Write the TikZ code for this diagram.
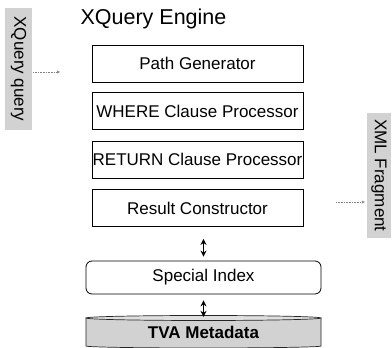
\documentclass[tikz,border=0pt]{standalone}
\usepackage{fontspec}
\setmainfont{Liberation Sans}
\usetikzlibrary{arrows.meta}

\tikzset{
  unit/.style={draw, line width=0.8pt, minimum width=211pt, minimum height=37pt,
    inner xsep=0pt, font=\fontsize{17}{20}\selectfont},
  tagbox/.style={fill=gray!35, rotate=-90, inner sep=0pt, font=\fontsize{17}{20}\selectfont},
  link/.style={{Stealth[length=6pt,width=6pt]}-{Stealth[length=6pt,width=6pt]}, line width=1.5pt},
  feed/.style={-{Triangle[open,length=3pt,width=3pt]}, gray, densely dotted, line width=0.6pt}
}

\begin{document}
\begin{tikzpicture}[x=1pt,y=1pt]
\useasboundingbox (0,0) rectangle (392,348);

\node[font=\fontsize{21.5}{24}\selectfont, anchor=base] (title) at (153.5,323) {XQuery Engine};

\node[unit] (pathgen) at (197.5,284.5) {Path Generator};
\node[unit] (where) at (197.5,237) {WHERE Clause Processor};
\node[unit] (return) at (197.5,188.5) {RETURN Clause Processor};
\node[unit] (result) at (197.5,140) {Result Constructor};

\node[unit, rounded corners=6pt, minimum width=235pt, minimum height=33pt] (index) at (203.5,70.5) {Special Index};

% metadata store
\fill[gray!35] (86,30) -- (86,2) arc[start angle=180, end angle=360, x radius=117.5, y radius=2] -- (321,30) -- cycle;
\draw[line width=0.7pt, gray!30!black] (86,30) -- (86,2) arc[start angle=180, end angle=360, x radius=117.5, y radius=2] -- (321,30);
\draw[line width=0.7pt, gray!30!black, fill=gray!25] (203.5,30) ellipse[x radius=117.5, y radius=2.5];
\node[minimum width=235pt, minimum height=28pt, inner sep=0pt,
  font=\bfseries\fontsize{17}{20}\selectfont] (tva) at (203.5,16) {TVA Metadata};

\draw[link, shorten <=4pt, shorten >=12pt] (index.north) -- (index.north |- result.south);
\draw[link, shorten <=6pt, shorten >=1pt] (index.south) -- (tva.north);

% input and output
\node[tagbox, minimum width=122pt, minimum height=27pt] (query) at (18.5,279) {XQuery query};
\coordinate (queryin) at (60,276);
\draw[feed, shorten <=1pt] (query.north |- queryin) -- (queryin);

\node[tagbox, minimum width=125pt, minimum height=24pt] (fragment) at (379,172.5) {XML Fragment};
\coordinate (fragout) at (336,146);
\draw[feed, shorten >=2pt] (fragout) -- (fragout -| fragment.south);

\end{tikzpicture}
\end{document}
